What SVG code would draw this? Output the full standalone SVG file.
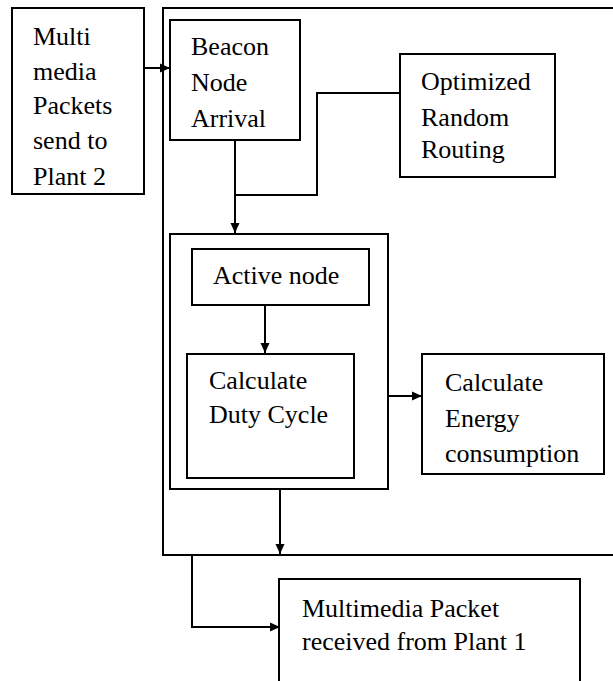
<svg xmlns="http://www.w3.org/2000/svg" width="613" height="681" viewBox="0 0 613 681">
<defs>
<marker id="ah" markerWidth="12" markerHeight="12" refX="10" refY="6" orient="auto" markerUnits="userSpaceOnUse">
<path d="M0,1.5 L10,6 L0,10.5 Z" fill="#000"/>
</marker>
<style>
.box{fill:none;stroke:#000;stroke-width:2}
.ln{fill:none;stroke:#000;stroke-width:2}
.ar{fill:none;stroke:#000;stroke-width:2;marker-end:url(#ah)}
text{font-family:"Liberation Serif","Times New Roman",serif;font-size:26px;fill:#000}
</style>
</defs>
<rect width="613" height="681" fill="#fff"/>
<g id="outer"><path class="box" d="M614,8 H163 V555 H614"/></g>
<g id="send">
<rect class="box" x="12" y="8" width="132" height="186"/>
<text x="33" y="45">Multi</text>
<text x="33" y="80">media</text>
<text x="33" y="114">Packets</text>
<text x="33" y="149">send to</text>
<text x="33" y="185">Plant 2</text>
</g>
<g id="beacon">
<rect class="box" x="170" y="20" width="130" height="120"/>
<text x="191" y="55">Beacon</text>
<text x="191" y="91">Node</text>
<text x="191" y="127">Arrival</text>
</g>
<g id="routing">
<rect class="box" x="400" y="54" width="155" height="123"/>
<text x="421" y="90">Optimized</text>
<text x="421" y="126">Random</text>
<text x="421" y="158">Routing</text>
</g>
<g id="inner"><rect class="box" x="170" y="234" width="218" height="255"/></g>
<g id="active">
<rect class="box" x="192" y="249" width="177" height="56"/>
<text x="213" y="284">Active node</text>
</g>
<g id="duty">
<rect class="box" x="187" y="354" width="167" height="124"/>
<text x="209" y="389">Calculate</text>
<text x="209" y="423">Duty Cycle</text>
</g>
<g id="energy">
<rect class="box" x="422" y="354" width="182" height="120"/>
<text x="445" y="391">Calculate</text>
<text x="445" y="427">Energy</text>
<text x="445" y="462">consumption</text>
</g>
<g id="received">
<path class="box" d="M279,682 V579 H580 V682"/>
<text x="302" y="617">Multimedia Packet</text>
<text x="302" y="650">received from Plant 1</text>
</g>
<g id="connectors">
<path class="ar" d="M144,68 H170"/>
<path class="ar" d="M235,140 V233"/>
<path class="ln" d="M235,195 H317 V93 H400"/>
<path class="ar" d="M265,305 V353"/>
<path class="ar" d="M388,396 H422"/>
<path class="ar" d="M280,489 V554"/>
<path class="ar" d="M192,555 V627 H280"/>
</g>
</svg>
